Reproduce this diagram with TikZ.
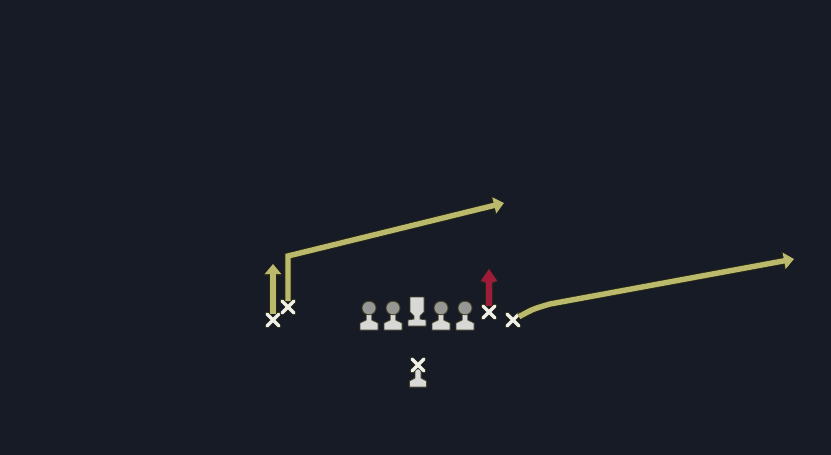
\documentclass[tikz,border=0pt]{standalone}
\usetikzlibrary{arrows.meta,shapes.misc}

\definecolor{field}{RGB}{22,27,37}
\definecolor{routecol}{RGB}{186,185,108}
\definecolor{edgecol}{RGB}{38,39,22}
\definecolor{blockcol}{RGB}{158,28,58}
\definecolor{bodycol}{RGB}{216,216,214}
\definecolor{helmetcol}{RGB}{150,150,148}
\definecolor{markcol}{RGB}{240,240,232}

\tikzset{
  player/.style={cross out,draw=markcol,line width=3.4pt,minimum size=8.5pt,inner sep=0pt,
    line cap=round,preaction={draw=edgecol,line width=4.8pt}},
  route/.style={draw=routecol,line width=5.4pt,-{Triangle[length=10pt,width=16pt]},
    preaction={draw=edgecol,line width=7.2pt,-{Triangle[length=11.5pt,width=18.5pt]}}},
  blockroute/.style={draw=blockcol,line width=6pt,-{Kite[length=15pt,width=16pt,inset=3.5pt]},
    preaction={draw=edgecol,line width=7.6pt,-{Kite[length=16.5pt,width=18pt,inset=4pt]}}},
  piece/.style={fill=bodycol,draw=edgecol!80!routecol,line width=0.8pt},
  lineman/.pic={
    \draw[piece] (-2.8,5) -- (-2.8,12) -- (-9,15) -- (-9,22) -- (9,22) -- (9,15)
      -- (2.8,12) -- (2.8,5) -- cycle;
    \draw[piece,fill=helmetcol] (0,0) ellipse (7 and 6.8);
  },
  snapper/.pic={
    \draw[piece] (-7,-9) -- (7,-9) -- (7,6) -- (3,10) -- (3,13) -- (9,14)
      -- (9,20) -- (-9,20) -- (-9,14) -- (-3,13) -- (-3,10) -- (-7,6) -- cycle;
  },
}

\begin{document}
\begin{tikzpicture}[x=1pt,y=-1pt]
    \fill[field] (0,0) rectangle (831,455);
    \useasboundingbox (0,0) rectangle (831,455);

    % offensive line
    \foreach \lx in {369,393,441,465}
        \pic at (\lx,308) {lineman};
    \pic at (417,306) {snapper};

    % quarterback
    \draw[piece] (415,369) -- (415,378) -- (409.5,381) -- (409.5,387) -- (426.5,387)
        -- (426.5,381) -- (421,378) -- (421,369) -- cycle;
    \node[player] (qb) at (418,365) {};

    % receivers
    \node[player] (wide) at (273,320) {};
    \node[player] (slot) at (288,307) {};
    \node[player] (tight) at (489,312) {};
    \node[player] (flank) at (513,320) {};

    \coordinate (wide end) at (273,264);
    \coordinate (slot turn) at (288,256);
    \coordinate (slot end) at (504,203);
    \coordinate (flank bend) at (550,304);
    \coordinate (flank end) at (794,259);
    \coordinate (tight end) at (489,269);

    % routes
    \draw[route] (wide) -- (wide end);
    \draw[route] (slot) -- (slot turn) -- (slot end);
    \draw[route] (flank) .. controls (533,309) .. (flank bend) -- (flank end);
    \draw[blockroute] (tight) -- (tight end);
\end{tikzpicture}
\end{document}
